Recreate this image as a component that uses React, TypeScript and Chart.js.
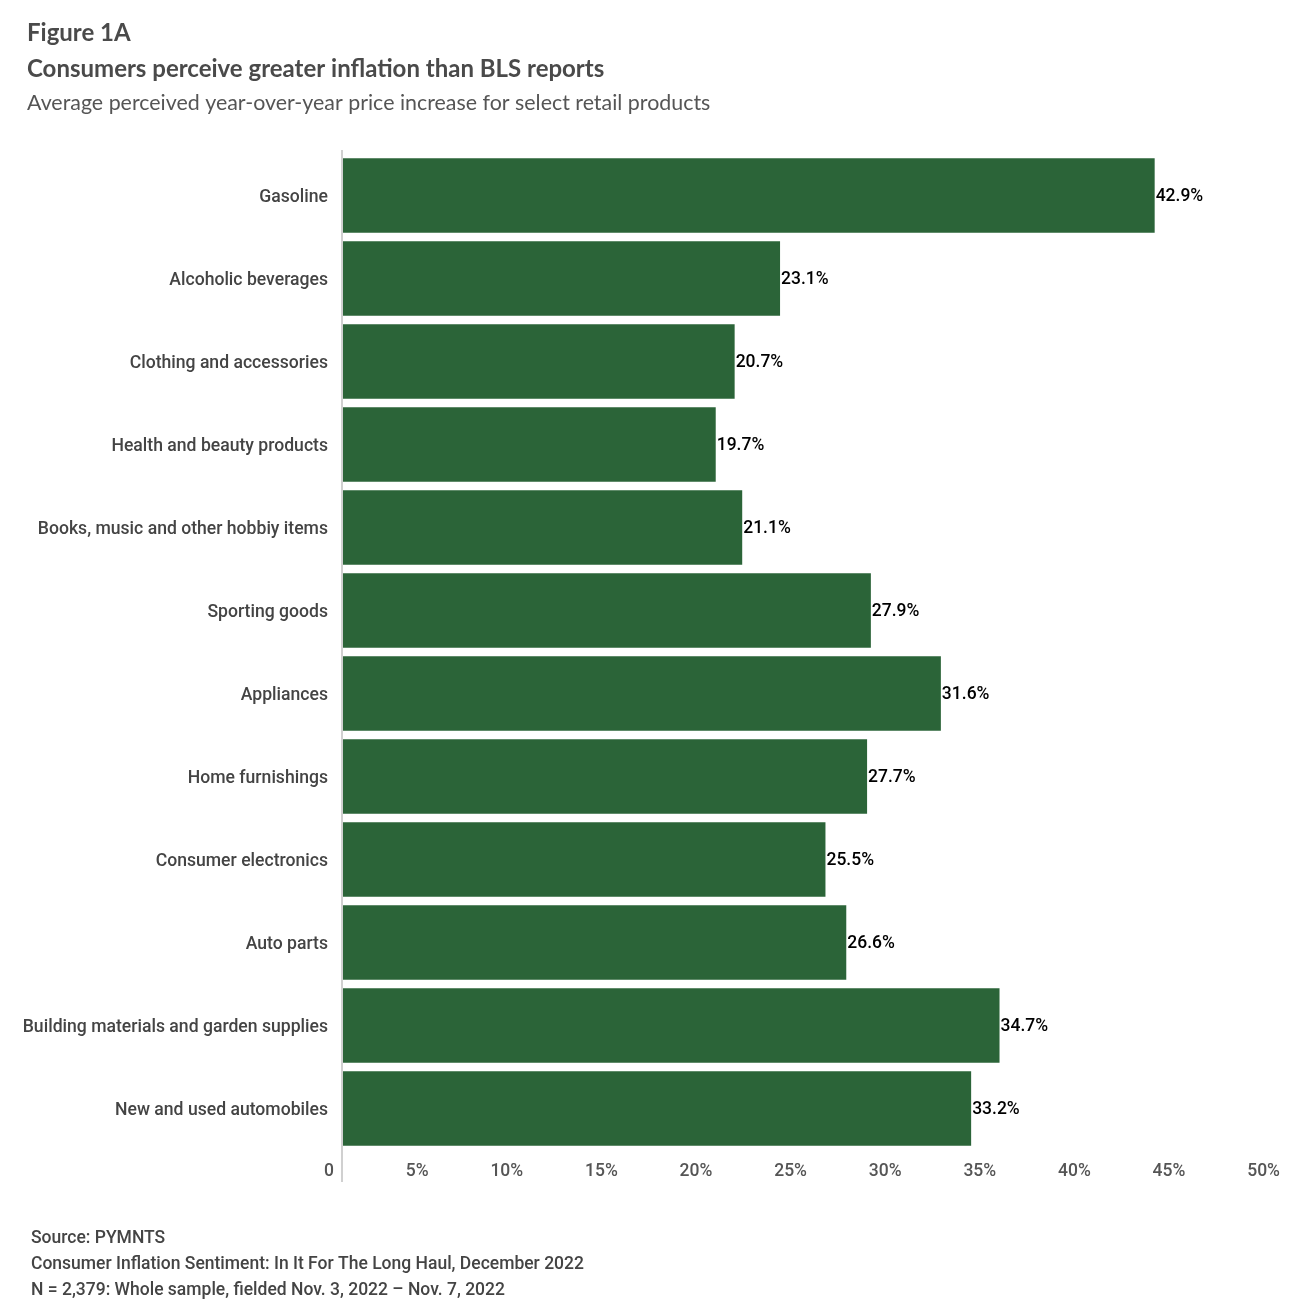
import React, { useEffect, useRef } from "react";
import { Chart, registerables } from "chart.js";

Chart.register(...registerables);

const categories: string[] = [
  "Gasoline",
  "Alcoholic beverages",
  "Clothing and accessories",
  "Health and beauty products",
  "Books, music and other hobbiy items",
  "Sporting goods",
  "Appliances",
  "Home furnishings",
  "Consumer electronics",
  "Auto parts",
  "Building materials and garden supplies",
  "New and used automobiles",
];

const values: number[] = [42.9, 23.1, 20.7, 19.7, 21.1, 27.9, 31.6, 27.7, 25.5, 26.6, 34.7, 33.2];

const xTicks: number[] = [0, 5, 10, 15, 20, 25, 30, 35, 40, 45, 50];

const figureLabel = "Figure 1A";
const titleText = "Consumers perceive greater inflation than BLS reports";
const subtitleText = "Average perceived year-over-year price increase for select retail products";
const sourceLines: string[] = [
  "Source: PYMNTS",
  "Consumer Inflation Sentiment: In It For The Long Haul, December 2022",
  "N = 2,379: Whole sample, fielded Nov. 3, 2022 – Nov. 7, 2022",
];

const BAR_COLOR = "#2b6438";

const decorPlugin = {
  id: "decor",
  afterDraw(chart: any) {
    const ctx = chart.ctx as CanvasRenderingContext2D;
    const area = chart.chartArea;
    ctx.save();
    // Titles
    ctx.textBaseline = "middle";
    ctx.textAlign = "left";
    ctx.fillStyle = "#4a4a4a";
    ctx.font = "bold 24px Lato";
    ctx.fillText(figureLabel, 27, 33);
    ctx.fillText(titleText, 27, 69);
    ctx.fillStyle = "#555555";
    ctx.font = "21.4px Lato";
    ctx.fillText(subtitleText, 27, 103);
    // Source
    ctx.fillStyle = "#444444";
    ctx.font = "500 17.5px Roboto";
    sourceLines.forEach((s, i) => ctx.fillText(s, 31, 1239 + i * 26));
    // Axis line
    ctx.strokeStyle = "#d0d0d0";
    ctx.lineWidth = 2;
    ctx.beginPath();
    ctx.moveTo(area.left - 1, area.top - 4);
    ctx.lineTo(area.left - 1, area.bottom + 32);
    ctx.stroke();
    // Value labels
    const meta = chart.getDatasetMeta(0);
    ctx.fillStyle = "#000000";
    ctx.font = "500 17.5px Roboto";
    meta.data.forEach((bar: any, i: number) => {
      ctx.fillText(values[i].toFixed(1) + "%", bar.x + 1, bar.y + 1);
    });
    ctx.restore();
  },
};

export default function App() {
  const ref = useRef<HTMLCanvasElement | null>(null);
  useEffect(() => {
    document.body.style.margin = "0";
    if (!ref.current) return;
    const chart = new Chart(ref.current, {
      type: "bar",
      data: {
        labels: categories,
        datasets: [
          {
            data: values,
            backgroundColor: BAR_COLOR,
            borderWidth: 0,
            barPercentage: 0.9,
            categoryPercentage: 1,
          },
        ],
      },
      options: {
        indexAxis: "y",
        responsive: false,
        animation: false,
        devicePixelRatio: 1,
        layout: { padding: { top: 154, right: 11, left: 0, bottom: 0 } },
        plugins: { legend: { display: false }, tooltip: { enabled: false } },
        scales: {
          x: {
            type: "linear",
            min: 0,
            max: 50,
            afterBuildTicks: (scale: any) => {
              scale.ticks = xTicks.map((v) => ({ value: v }));
            },
            afterFit: (scale: any) => {
              scale.height = 160;
            },
            grid: { display: false, drawTicks: false },
            border: { display: false },
            ticks: {
              autoSkip: false,
              maxRotation: 0,
              align: "end",
              labelOffset: -9,
              padding: 11,
              color: "#555555",
              font: { family: "Roboto", size: 17.5, weight: "500" },
              callback: (v: any) => (Number(v) === 0 ? "0" : v + "%"),
            },
          },
          y: {
            afterFit: (scale: any) => {
              scale.width = 343;
            },
            grid: { display: false, drawTicks: false },
            border: { display: false },
            ticks: {
              padding: 15,
              labelOffset: 2,
              color: "#444444",
              font: { family: "Roboto", size: 17.6, weight: "500" },
            },
          },
        },
      },
      plugins: [decorPlugin],
    } as any);
    return () => chart.destroy();
  }, []);
  return (
    <div style={{ width: 1300, height: 1310, background: "#fff" }}>
      <canvas ref={ref} width={1300} height={1310} style={{ display: "block" }} />
    </div>
  );
}
